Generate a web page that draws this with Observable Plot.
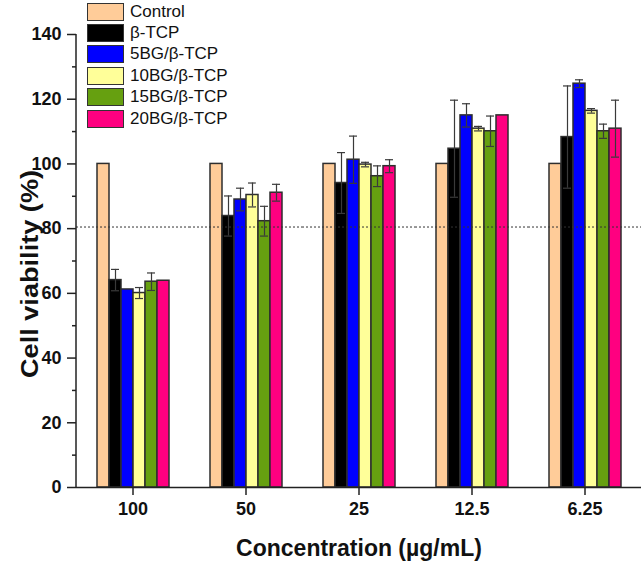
<!DOCTYPE html>
<html>
<head>
<meta charset="utf-8">
<script src="https://cdn.jsdelivr.net/npm/d3@7"></script>
<script src="https://cdn.jsdelivr.net/npm/@observablehq/plot@0.6"></script>
<style>
  html, body { margin: 0; padding: 0; background: #fff; }
  #wrap { position: relative; width: 643px; height: 562px; font-family: "Liberation Sans", Arial, sans-serif; }
  #legend { position: absolute; left: 87px; top: 1px; }
  .row { display: flex; align-items: center; height: 21.4px; }
  .sw { width: 35px; height: 16px; border: 1.5px solid #333; }
  .lab { margin-left: 6px; font-size: 17px; color: #111; }
  #xtitle { position: absolute; left: 76px; width: 566px; top: 535px; text-align: center; font-size: 23px; font-weight: bold; color: #111; }
  #ytitle { position: absolute; left: 30px; top: 274px; transform: translate(-50%, -50%) rotate(-90deg) scaleX(1.18); white-space: nowrap; font-size: 23px; font-weight: bold; color: #111; }
</style>
</head>
<body>
<div id="wrap"></div>
<script>
// ---- data ----
const concentrations = ["100", "50", "25", "12.5", "6.25"];
const series = ["Control", "β-TCP", "5BG/β-TCP", "10BG/β-TCP", "15BG/β-TCP", "20BG/β-TCP"];
const colors = ["#FFCC99", "#000000", "#0000FF", "#FFFF99", "#66A010", "#FF0080"];

const controlValues = [100, 100, 100, 100, 100];
const tcpValues     = [64.1, 83.9, 94.1, 104.7, 108.3];
const bg5Values     = [61.2, 89.0, 101.3, 115.0, 124.8];
const bg10Values    = [60.1, 90.4, 99.8, 110.9, 116.4];
const bg15Values    = [63.6, 82.3, 96.2, 110.1, 110.1];
const bg20Values    = [63.9, 91.1, 99.3, 115.0, 110.9];

const controlErr = [0, 0, 0, 0, 0];
const tcpErr     = [3.3, 6.2, 9.4, 15.0, 15.8];
const bg5Err     = [0, 3.5, 7.3, 3.6, 1.2];
const bg10Err    = [1.7, 3.7, 0.7, 0.7, 0.7];
const bg15Err    = [2.7, 4.6, 3.2, 4.7, 2.2];
const bg20Err    = [0, 2.6, 2.0, 0, 8.8];

const thresholdLine = [80.5];
const yTicks = [0, 20, 40, 60, 80, 100, 120, 140];
const yMinorTicks = [10, 30, 50, 70, 90, 110, 130];

const xTitle = "Concentration (µg/mL)";
const yTitle = "Cell viability (%)";

// ---- table ----
const valueSets = [controlValues, tcpValues, bg5Values, bg10Values, bg15Values, bg20Values];
const errSets = [controlErr, tcpErr, bg5Err, bg10Err, bg15Err, bg20Err];
const rows = concentrations.flatMap((c, i) =>
  series.map((s, j) => ({ conc: c, series: s, value: valueSets[j][i], err: errSets[j][i] })));
const errRows = rows.filter(d => d.err > 0);

const chart = Plot.plot({
  width: 643,
  height: 562,
  marginTop: 34,
  marginBottom: 75,
  marginLeft: 76,
  marginRight: 2,
  style: { fontFamily: "'Liberation Sans', Arial, sans-serif", background: "white", color: "#111" },
  fx: { domain: concentrations, padding: 0, label: null, axis: null },
  x: { domain: series, paddingInner: 0, paddingOuter: 1.62, axis: null },
  y: { domain: [0, 140], label: null },
  color: { domain: series, range: colors },
  marks: [
    Plot.barY(rows, { fx: "conc", x: "series", y: "value", fill: "series", stroke: "#2e2e2e", strokeWidth: 1.5 }),
    Plot.ruleX(errRows, { fx: "conc", x: "series", y1: d => d.value - d.err, y2: d => d.value + d.err, stroke: "#3a3a3a", strokeWidth: 1.2 }),
    Plot.tickY(errRows, { fx: "conc", x: "series", y: d => d.value + d.err, insetLeft: 2, insetRight: 2, stroke: "#3a3a3a", strokeWidth: 1.2 }),
    Plot.tickY(errRows, { fx: "conc", x: "series", y: d => d.value - d.err, insetLeft: 2, insetRight: 2, stroke: "#3a3a3a", strokeWidth: 1.2 }),
    Plot.ruleY(thresholdLine, { stroke: "#333", strokeWidth: 1, strokeDasharray: "2,2" }),
    Plot.ruleY([0], { stroke: "#222", strokeWidth: 1.5 }),
    Plot.axisY({ ticks: yTicks, tickSize: 9, tickPadding: 6, fontSize: 18, fontWeight: "bold", label: null, stroke: "#222", strokeWidth: 1.5 }),
    Plot.axisY({ ticks: yMinorTicks, tickSize: 4, tickFormat: () => "", label: null, stroke: "#222", strokeWidth: 1.5 }),
    Plot.axisFx({ anchor: "bottom", tickSize: 8, tickPadding: 7, fontSize: 18, fontWeight: "bold", label: null, stroke: "#222", strokeWidth: 1.5 })
  ]
});

// y axis line drawn from the y scale
const ys = chart.scale("y");
d3.select(chart).append("line")
  .attr("x1", 76).attr("x2", 76)
  .attr("y1", ys.apply(0) + 0.75).attr("y2", ys.apply(140))
  .attr("stroke", "#222").attr("stroke-width", 1.5);

const wrap = document.getElementById("wrap");
wrap.appendChild(chart);

// legend
const legend = document.createElement("div");
legend.id = "legend";
series.forEach((s, i) => {
  const row = document.createElement("div");
  row.className = "row";
  const sw = document.createElement("div");
  sw.className = "sw";
  sw.style.background = colors[i];
  const lab = document.createElement("span");
  lab.className = "lab";
  lab.textContent = s;
  row.appendChild(sw); row.appendChild(lab);
  legend.appendChild(row);
});
wrap.appendChild(legend);

const xt = document.createElement("div");
xt.id = "xtitle"; xt.textContent = xTitle;
wrap.appendChild(xt);
const yt = document.createElement("div");
yt.id = "ytitle"; yt.textContent = yTitle;
wrap.appendChild(yt);
</script>
</body>
</html>
